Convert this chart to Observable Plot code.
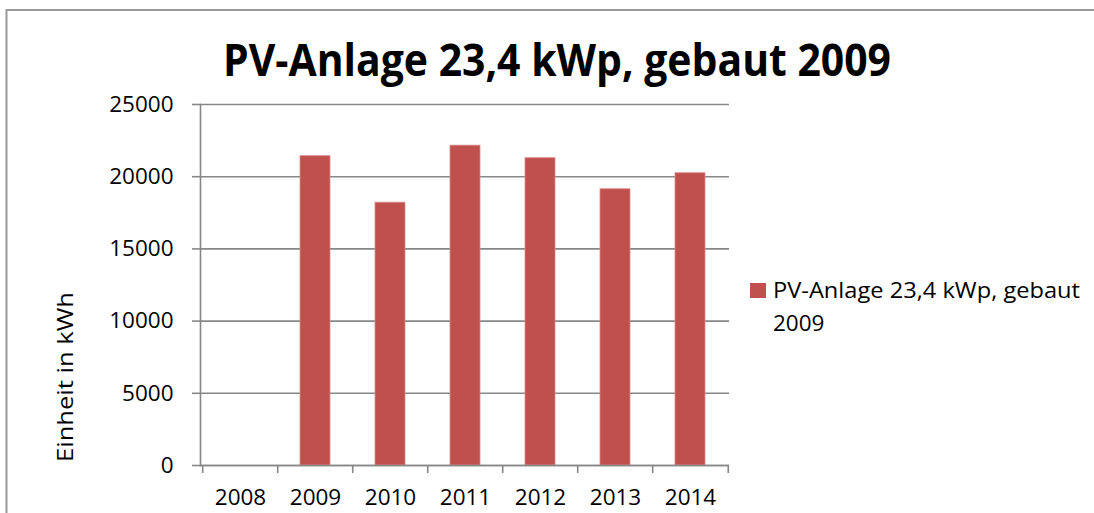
<!DOCTYPE html>
<html><head><meta charset="utf-8">
<script src="https://cdn.jsdelivr.net/npm/d3@7"></script>
<script src="https://cdn.jsdelivr.net/npm/@observablehq/plot@0.6"></script>
<style>
html,body{margin:0;padding:0;background:#fff;}
#wrap{position:relative;width:1094px;height:513px;overflow:hidden;background:#fff;}
#wrap svg{position:absolute;left:0;top:0;}
</style></head><body><div id="wrap"></div>
<script>
const years = ["2008","2009","2010","2011","2012","2013","2014"];
const energy = [null, 21420, 18200, 22150, 21280, 19130, 20240];
const yTicks = [0, 5000, 10000, 15000, 20000, 25000];
const seriesName = "PV-Anlage 23,4 kWp, gebaut 2009";
const titleText = "PV-Anlage 23,4 kWp, gebaut 2009";
const yLabel = "Einheit in kWh";

const data = years.map((y, i) => ({year: y, value: energy[i]})).filter(d => d.value != null);

const W = 1094, H = 513, mL = 200, mR = 365, mT = 104, mB = 48;
const step = (W - mL - mR) / years.length;
const font = "'Open Sans', sans-serif";
const grid = "#878787";
const barColor = "#C0504D";

const plot = Plot.plot({
  width: W, height: H, marginLeft: mL, marginRight: mR, marginTop: mT, marginBottom: mB,
  style: {fontFamily: font, fontSize: "22px", color: "#000", background: "transparent", overflow: "visible"},
  x: {type: "band", domain: years, paddingInner: 0.6, paddingOuter: 0.3, label: null},
  y: {domain: [0, 25000], label: null},
  marks: [
    Plot.gridY(yTicks, {stroke: grid, strokeOpacity: 1, strokeWidth: 1.6}),
    Plot.axisY(yTicks, {tickSize: 8, tickPadding: 19, stroke: grid, strokeWidth: 1.6, strokeOpacity: 1,
      fontSize: 22.5, fill: "#000", label: null, tickFormat: d => String(d)}),
    Plot.barY(data, {x: "year", y: "value", fill: barColor, stroke: "#d98b89", strokeWidth: 0.8}),
    Plot.frame({anchor: "left", stroke: grid, strokeWidth: 1.6}),
    Plot.ruleY([0], {stroke: grid, strokeWidth: 1.6}),
    Plot.axisX(years, {tickSize: 8, text: null, dx: -step / 2, stroke: grid, strokeWidth: 1.6, strokeOpacity: 1, label: null}),
    Plot.axisX([years[years.length - 1]], {tickSize: 8, text: null, dx: step / 2, stroke: grid, strokeWidth: 1.6, strokeOpacity: 1, label: null}),
    Plot.axisX(years, {tickSize: 0, tickPadding: 24, fontSize: 22.5, fill: "#000", label: null})
  ]
});

const wrap = document.getElementById("wrap");
wrap.appendChild(plot);

// overlay: frame border, title, legend, y label
const ov = d3.create("svg").attr("width", W).attr("height", H)
  .style("font-family", font);
ov.append("path").attr("d", `M6.5,${H}V10H${W}`).attr("fill", "none")
  .attr("stroke", "#999").attr("stroke-width", 2);

ov.append("text").text(titleText)
  .attr("x", 223).attr("y", 76)
  .attr("font-size", 45).attr("font-weight", 700).attr("fill", "#000")
  .attr("textLength", 668).attr("lengthAdjust", "spacingAndGlyphs");

ov.append("text").text(yLabel)
  .attr("transform", "translate(73,377) rotate(-90)")
  .attr("text-anchor", "middle")
  .attr("font-size", 22.5).attr("fill", "#000")
  .attr("textLength", 170).attr("lengthAdjust", "spacingAndGlyphs");

const words = seriesName.split(" ");
const line1 = words.slice(0, -1).join(" ");
const line2 = words[words.length - 1];
ov.append("rect").attr("x", 750).attr("y", 283).attr("width", 16).attr("height", 15).attr("fill", barColor);
ov.append("text").text(line1).attr("x", 773).attr("y", 298)
  .attr("font-size", 22.5).attr("fill", "#000")
  .attr("textLength", 307).attr("lengthAdjust", "spacingAndGlyphs");
ov.append("text").text(line2).attr("x", 773).attr("y", 331)
  .attr("font-size", 22.5).attr("fill", "#000");

wrap.appendChild(ov.node());
</script></body></html>
